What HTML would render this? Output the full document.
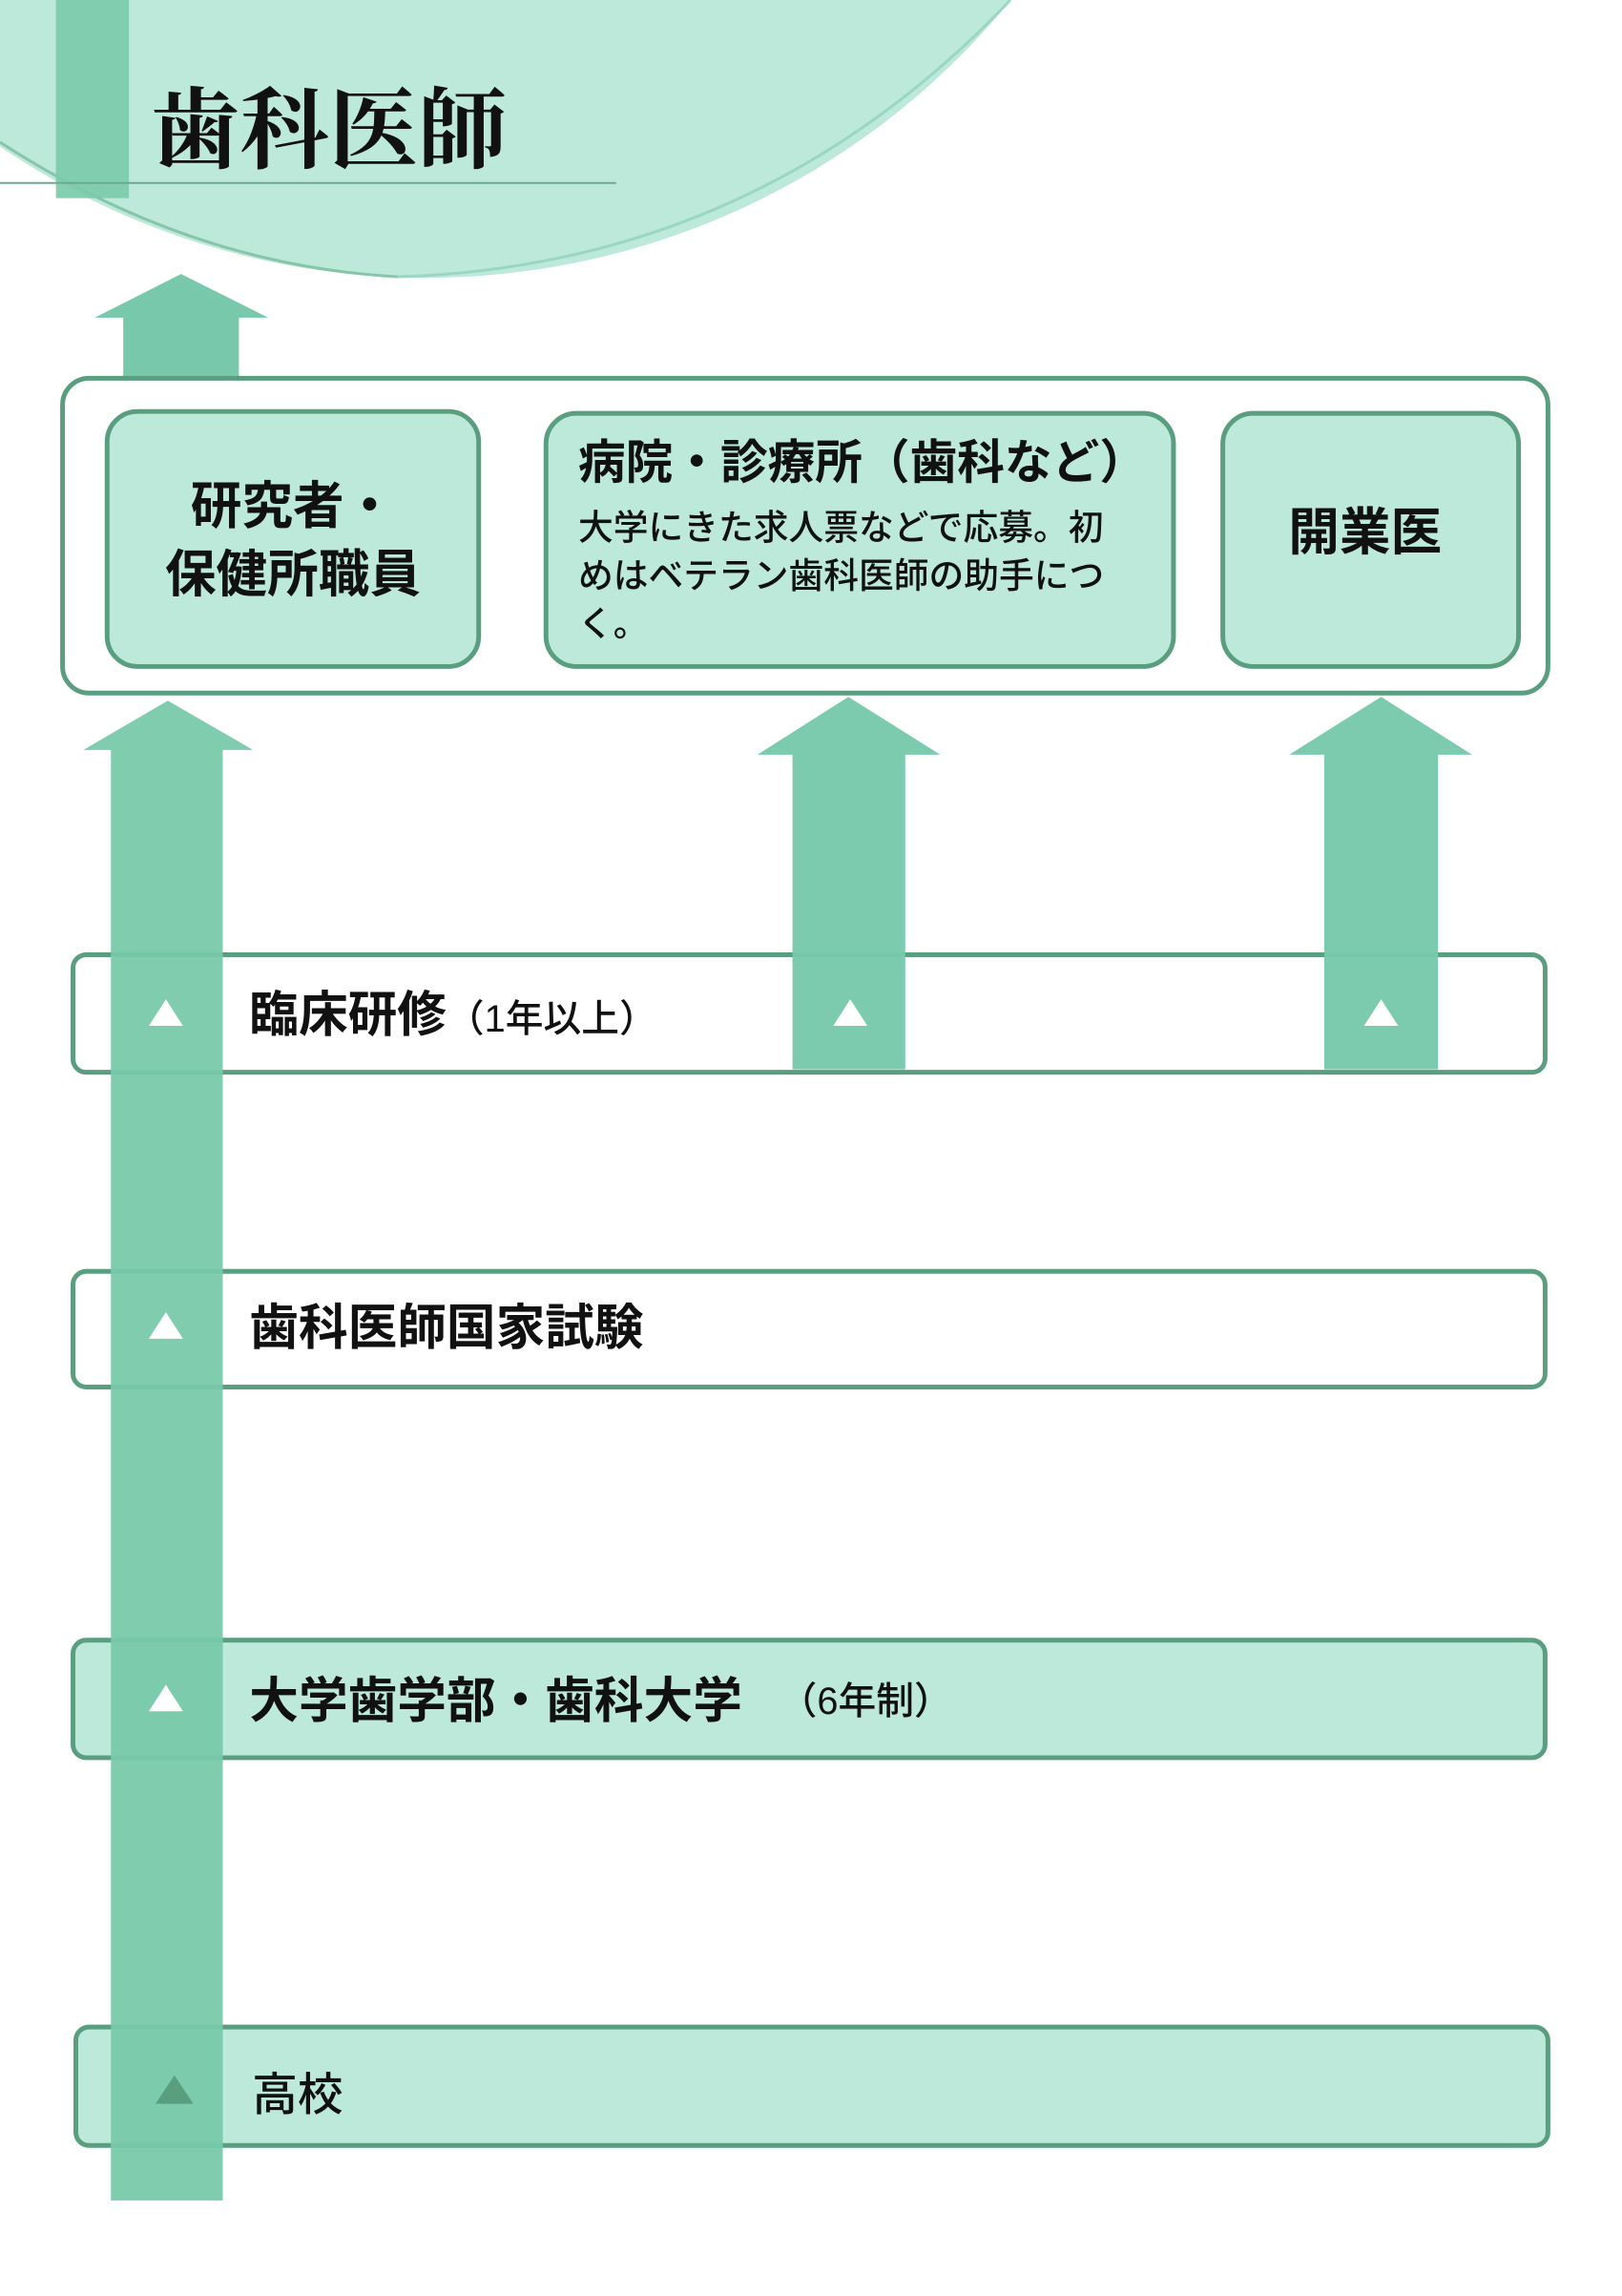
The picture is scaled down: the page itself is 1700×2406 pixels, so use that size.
<!DOCTYPE html>
<html><head><meta charset="utf-8"><style>
html,body{margin:0;padding:0;background:#fff;}
svg{display:block;}
text{font-family:"Liberation Sans","Noto Sans CJK JP",sans-serif;fill:#111;}
</style></head><body>
<svg width="1700" height="2406" viewBox="0 0 1700 2406" xmlns="http://www.w3.org/2000/svg">
<g transform="scale(0.9935)">
<circle cx="449" cy="-504" r="797" fill="#bde9da"/>
<path d="M0 150 Q200 280 420 292" stroke="#6fb596" stroke-width="3" fill="none" opacity="0.7"/>
<path d="M420 292 Q800 280 1066 0" stroke="#8ccfb6" stroke-width="3" fill="none" opacity="0.7"/>
<rect x="59" y="0" width="77" height="209" fill="#7acaaa" opacity="0.9"/>
<line x1="0" y1="193" x2="650" y2="193" stroke="#6fa892" stroke-width="2"/>
<text x="159" y="170" font-weight="bold" font-size="94" style="font-family:'Liberation Serif','Noto Serif CJK SC',serif">歯科医師</text>
<polygon points="191,289 283,335 252,335 252,400 130,400 130,335 100,335" fill="#78c9ab"/>
<rect x="66" y="399" width="1567" height="332" rx="28" fill="#fff" stroke="#5a9e80" stroke-width="5"/>
<rect x="113" y="434" width="392" height="269" rx="32" fill="#bde9da" stroke="#5a9e80" stroke-width="5"/>
<rect x="576" y="436" width="662" height="267" rx="32" fill="#bde9da" stroke="#5a9e80" stroke-width="5"/>
<rect x="1290" y="436" width="312" height="267" rx="32" fill="#bde9da" stroke="#5a9e80" stroke-width="5"/>
<text x="309" y="552" font-size="54" font-weight="bold" text-anchor="middle">研究者・</text>
<text x="309" y="624" font-size="54" font-weight="bold" text-anchor="middle">保健所職員</text>
<text x="610" y="505" font-size="50" font-weight="bold">病院・診療所（歯科など）</text>
<text x="610" y="569" font-size="37" font-weight="500">大学にきた求人票などで応募。初</text>
<text x="610" y="620" font-size="37" font-weight="500">めはベテラン歯科医師の助手につ</text>
<text x="610" y="671" font-size="37" font-weight="500">く。</text>
<text x="1440" y="580" font-size="54" font-weight="bold" text-anchor="middle">開業医</text>
<rect x="77" y="1007" width="1553" height="124" rx="14" fill="#fff" stroke="#5a9e80" stroke-width="5"/>
<rect x="77" y="1341" width="1553" height="122" rx="14" fill="#fff" stroke="#5a9e80" stroke-width="5"/>
<rect x="77" y="1730" width="1553" height="124" rx="14" fill="#bde9da" stroke="#5a9e80" stroke-width="5"/>
<rect x="80" y="2138" width="1553" height="125" rx="14" fill="#bde9da" stroke="#5a9e80" stroke-width="5"/>
<polygon points="177,739 267,791 235,791 235,2321 117,2321 117,791 88,791" fill="#78c9ab" opacity="0.95"/>
<polygon points="895,735 992,796 955,796 955,1128 836,1128 836,796 799,796" fill="#78c9ab" opacity="0.97"/>
<polygon points="1457,735 1553,796 1517,796 1517,1128 1397,1128 1397,796 1360,796" fill="#78c9ab" opacity="0.97"/>
<polygon points="175,1054 193,1082 157,1082" fill="#fff"/>
<polygon points="897,1054 915,1082 879,1082" fill="#fff"/>
<polygon points="1457,1054 1475,1082 1439,1082" fill="#fff"/>
<polygon points="175,1384 193,1412 157,1412" fill="#fff"/>
<polygon points="175,1777 193,1805 157,1805" fill="#fff"/>
<polygon points="184,2189 204,2219 164,2219" fill="#5a9e80"/>
<text x="263" y="1088" font-size="52" font-weight="bold">臨床研修<tspan font-size="40" font-weight="500">（1年以上）</tspan></text>
<text x="263" y="1418" font-size="52" font-weight="bold">歯科医師国家試験</text>
<text x="263" y="1812" font-size="52" font-weight="bold">大学歯学部・歯科大学</text>
<text x="822" y="1808" font-size="40" font-weight="500">（6年制）</text>
<text x="266" y="2226" font-size="48" font-weight="500">高校</text>
</g>
</svg>
</body></html>
